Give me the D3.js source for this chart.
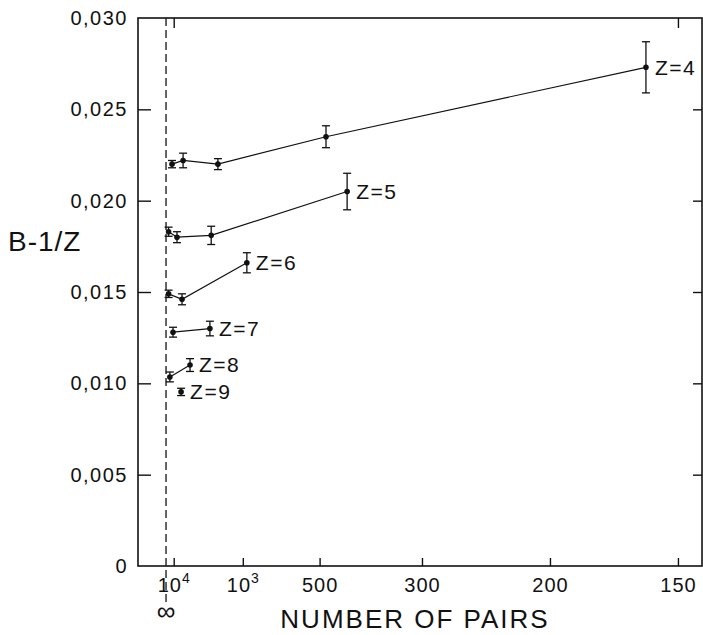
<!DOCTYPE html>
<html>
<head>
<meta charset="utf-8">
<script src="https://cdn.jsdelivr.net/npm/d3@7"></script>
<style>
  body { margin: 0; background: #fff; }
  svg text { font-family: "Liberation Sans", Arial, sans-serif; fill: #111; }
</style>
</head>
<body>
<div id="chart"></div>
<script>
// data: number of pairs, B-1/Z value, error half-width
var zNames = ["Z=4", "Z=5", "Z=6", "Z=7", "Z=8", "Z=9"];
var pairs = [
  [12800, 4500, 1480, 480, 160],
  [30000, 7000, 1700, 424],
  [30000, 4800, 950],
  [11000, 1750],
  [20000, 3200],
  [5100]
];
var values = [
  [0.0220, 0.0222, 0.0220, 0.0235, 0.0273],
  [0.0183, 0.0180, 0.0181, 0.0205],
  [0.0149, 0.0146, 0.0166],
  [0.0128, 0.0130],
  [0.01035, 0.0110],
  [0.00953]
];
var errors = [
  [0.0002, 0.0004, 0.0003, 0.0006, 0.0014],
  [0.00025, 0.0003, 0.0005, 0.001],
  [0.0002, 0.0003, 0.00055],
  [0.00027, 0.0004],
  [0.00027, 0.00035],
  [0.0002]
];
var xTickPairs = [1e4, 1e3, 500, 300, 200, 150];
var xTickBase = ["10", "10", "500", "300", "200", "150"];
var xTickSup = ["4", "3", "", "", "", ""];
var yTicks = [0, 0.005, 0.010, 0.015, 0.020, 0.025, 0.030];

var svgWidth = 703;
var svgHeight = 635;
var margin = { top: 18, right: 1, bottom: 69, left: 138 };
var width = svgWidth - margin.left - margin.right;
var height = svgHeight - margin.top - margin.bottom;

var svg = d3.select("#chart").append("svg")
  .attr("width", svgWidth)
  .attr("height", svgHeight);

var chart = svg.append("g")
  .attr("transform", "translate(" + margin.left + "," + margin.top + ")");

// x axis is linear in 1/N
var x = d3.scaleLinear().domain([-0.000365, 0.00698]).range([0, width]);
var y = d3.scaleLinear().domain([0, 0.030]).range([height, 0]);

var fmtY = function(d) {
  return d === 0 ? "0" : d3.format(".3f")(d).replace(".", ",");
};

// frame
chart.append("rect")
  .attr("width", width).attr("height", height)
  .attr("fill", "none").attr("stroke", "#111").attr("stroke-width", 1.6);

// left axis
var leftAx = chart.append("g")
  .call(d3.axisLeft(y).tickValues(yTicks).tickSizeInner(-13).tickSizeOuter(0).tickPadding(10).tickFormat(fmtY));
leftAx.select(".domain").remove();
leftAx.selectAll(".tick line").attr("stroke", "#111").attr("stroke-width", 1.4);
leftAx.selectAll(".tick text").style("font-size", "20px").style("letter-spacing", "1.5px").attr("fill", "#111");
leftAx.selectAll(".tick").filter(function(d) { return d === 0.030 || d === 0; }).select("line").remove();

// right axis ticks
var rightAx = chart.append("g").attr("transform", "translate(" + width + ",0)")
  .call(d3.axisRight(y).tickValues(yTicks.slice(1, 6)).tickSizeInner(-9).tickSizeOuter(0).tickFormat(""));
rightAx.select(".domain").remove();
rightAx.selectAll(".tick line").attr("stroke", "#111").attr("stroke-width", 1.4);

// bottom axis
var bottomAx = chart.append("g").attr("transform", "translate(0," + height + ")")
  .call(d3.axisBottom(x).tickValues(xTickPairs.map(function(n) { return 1 / n; }))
    .tickSizeInner(-8).tickSizeOuter(0).tickPadding(14).tickFormat(""));
bottomAx.select(".domain").remove();
bottomAx.selectAll(".tick line").attr("stroke", "#111").attr("stroke-width", 1.4);
bottomAx.selectAll(".tick").append("text")
  .attr("y", 26)
  .attr("text-anchor", "middle")
  .style("font-size", "20px")
  .style("letter-spacing", "1px")
  .each(function(d, i) {
    var t = d3.select(this);
    t.append("tspan").text(xTickBase[i]);
    if (xTickSup[i]) {
      t.append("tspan").attr("dy", -9).style("font-size", "14px").text(xTickSup[i]);
    }
  });

// top axis ticks
var topAx = chart.append("g")
  .call(d3.axisTop(x).tickValues([1e-4, 1 / 150]).tickSizeInner(-10).tickSizeOuter(0).tickFormat(""));
topAx.select(".domain").remove();
topAx.selectAll(".tick line").attr("stroke", "#111").attr("stroke-width", 1.4);

// dashed line at infinity
chart.append("line")
  .attr("x1", x(0)).attr("x2", x(0))
  .attr("y1", 0).attr("y2", height + 36)
  .attr("stroke", "#111").attr("stroke-width", 1.3)
  .attr("stroke-dasharray", "8,4");

chart.append("text")
  .attr("x", x(0)).attr("y", height + 54)
  .attr("text-anchor", "middle")
  .style("font-size", "26px")
  .text("\u221E");

// series
var line = d3.line()
  .x(function(d) { return x(1 / d.n); })
  .y(function(d) { return y(d.v); });

zNames.forEach(function(name, s) {
  var pts = pairs[s].map(function(n, i) {
    return { n: n, v: values[s][i], e: errors[s][i] };
  });
  var g = chart.append("g");

  g.append("path").datum(pts)
    .attr("d", line)
    .attr("fill", "none").attr("stroke", "#111").attr("stroke-width", 1.2);

  var bars = g.selectAll(".err").data(pts).enter().append("g");
  bars.append("line")
    .attr("x1", function(d) { return x(1 / d.n); })
    .attr("x2", function(d) { return x(1 / d.n); })
    .attr("y1", function(d) { return y(d.v - d.e); })
    .attr("y2", function(d) { return y(d.v + d.e); })
    .attr("stroke", "#111").attr("stroke-width", 1.3);
  [-1, 1].forEach(function(sg) {
    bars.append("line")
      .attr("x1", function(d) { return x(1 / d.n) - 4; })
      .attr("x2", function(d) { return x(1 / d.n) + 4; })
      .attr("y1", function(d) { return y(d.v + sg * d.e); })
      .attr("y2", function(d) { return y(d.v + sg * d.e); })
      .attr("stroke", "#111").attr("stroke-width", 1.3);
  });
  bars.append("circle")
    .attr("cx", function(d) { return x(1 / d.n); })
    .attr("cy", function(d) { return y(d.v); })
    .attr("r", 2.8)
    .attr("fill", "#111");

  var last = pts[pts.length - 1];
  g.append("text")
    .attr("x", x(1 / last.n) + 9)
    .attr("y", y(last.v))
    .attr("dy", "0.35em")
    .style("font-size", "21px")
    .style("letter-spacing", "1.5px")
    .text(name);
});

// axis titles
svg.append("text")
  .attr("x", 8).attr("y", 251)
  .style("font-size", "28px")
  .style("letter-spacing", "1px")
  .text("B-1/Z");

svg.append("text")
  .attr("x", 415).attr("y", 628)
  .attr("text-anchor", "middle")
  .style("font-size", "26px")
  .style("letter-spacing", "2px")
  .text("NUMBER OF PAIRS");
</script>
</body>
</html>
